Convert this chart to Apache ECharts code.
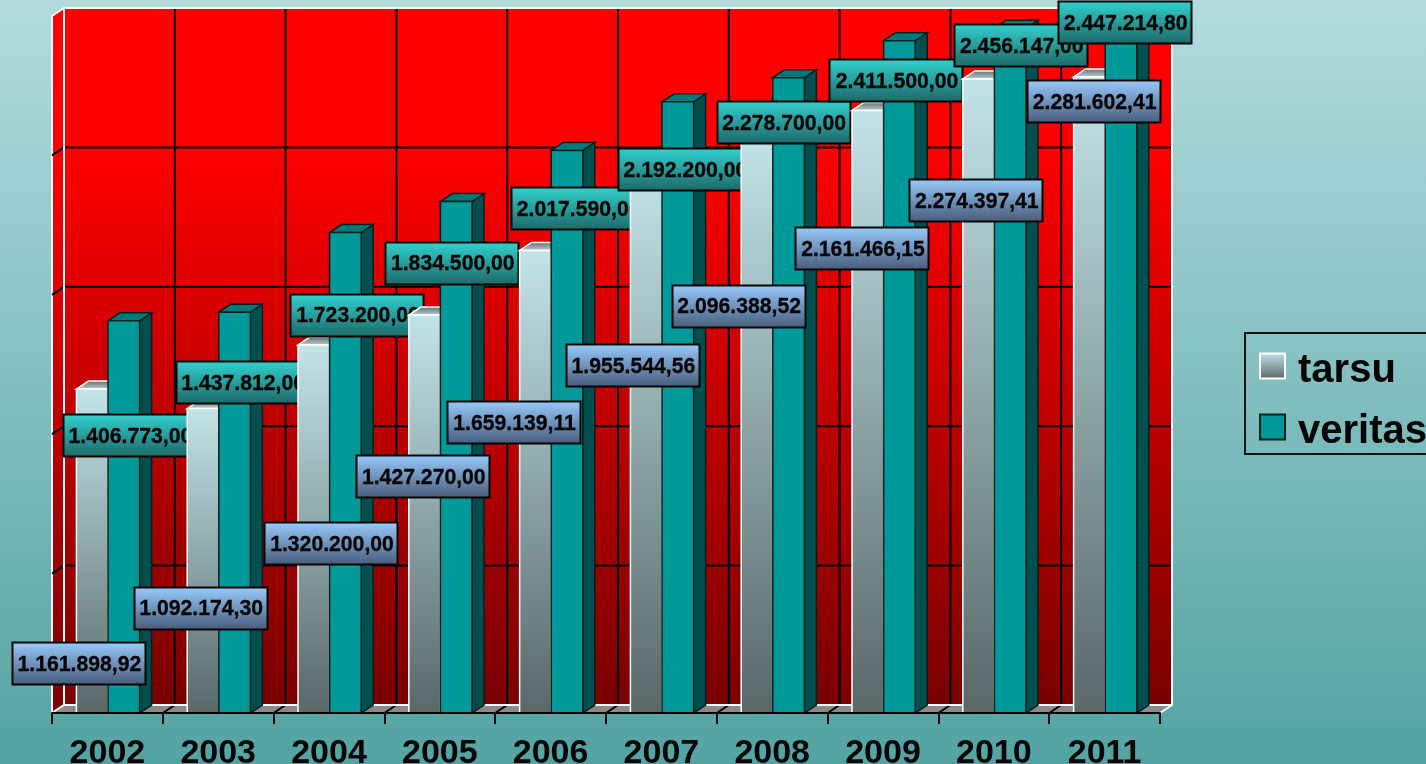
<!DOCTYPE html>
<html><head><meta charset="utf-8">
<style>html,body{margin:0;padding:0;overflow:hidden}#c{width:1426px;height:764px}</style>
<script src="https://cdn.jsdelivr.net/npm/echarts@6/dist/echarts.min.js"></script>
</head><body><div id="c"></div>
<script>
const categories = ['2002','2003','2004','2005','2006','2007','2008','2009','2010','2011'];
const tarsu = [1161898.92,1092174.30,1320200.00,1427270.00,1659139.11,1955544.56,2096388.52,2161466.15,2274397.41,2281602.41];
const veritas = [1406773.00,1437812.00,1723200.00,1834500.00,2017590.00,2192200.00,2278700.00,2411500.00,2456147.00,2447214.80];
const yTicks = [0,500000,1000000,1500000,2000000,2500000];
// hand-placed label offsets (from category centre / bar top)
const tarsuLabelDx = [-29,-18,2,-17,-37,-29,-34,-21,-18,-11];
const tarsuLabelDy = [275,200,199,162,173,198,178,139,122,25];
const veritasLabelDx = [22,24,28,12,27,23,11,13,27,20];
const veritasLabelDy = [115,71,83,62,59,68,45,40,18,-8];

const DX = 12, DY = 8, BAR = 0.285, LW = 133, LH = 42, SHIFT = 0.6;
const G = echarts.graphic;
const vgrad = (a, b) => new G.LinearGradient(0,0,0,1,[{offset:0,color:a},{offset:1,color:b}]);
const fmt = v => {
  const [i, d] = v.toFixed(2).split('.');
  return i.replace(/\B(?=(\d{3})+$)/g,'.') + ',' + d;
};
const poly = (points, style, z2) => ({type:'polygon', shape:{points}, style, z2, silent:true});
const line = (x1,y1,x2,y2,z2,stroke='#000',lineWidth=2) => ({type:'line', shape:{x1,y1,x2,y2}, style:{stroke,lineWidth}, z2, silent:true});

function renderWalls(params, api) {
  const band = api.size([1,0])[0];
  const [x0] = api.coord([0,0]);
  const left = x0 - band/2, right = left + band*categories.length;
  const yMax = api.coord([0,yTicks[yTicks.length-1]])[1], y0 = api.coord([0,0])[1];
  const wallFill = new G.LinearGradient(0,0,0,1,[{offset:0,color:'#ff0000'},{offset:0.2,color:'#ff0000'},{offset:1,color:'#790000'}]);
  const white = '#f4fafa';
  const kids = [];
  kids.push(poly([[left,yMax],[left+DX,yMax-DY],[left+DX,y0-DY],[left,y0]],{fill:wallFill,stroke:white,lineWidth:2},1));
  kids.push(poly([[left,y0],[left+DX,y0-DY],[right+DX,y0-DY],[right,y0]],{fill:'#8a8a8a'},1));
  kids.push(line(left,y0,left+DX,y0-DY,1,white,2));
  kids.push(line(right,y0,right+DX,y0-DY,1,white,2));
  kids.push({type:'rect',shape:{x:left+DX,y:yMax-DY,width:right-left,height:y0-yMax},style:{fill:wallFill},z2:2,silent:true});
  yTicks.slice(1,-1).forEach(t=>{
    const y = api.coord([0,t])[1];
    kids.push(line(left,y,left+DX,y-DY,3));
    kids.push(line(left+DX,y-DY,right+DX,y-DY,3));
  });
  categories.forEach((c,i)=>{
    const b = left + band*(i+1);
    if (i<categories.length-1) kids.push(line(b+DX,yMax-DY,b+DX,y0-DY,3));
    if (i<categories.length-1) kids.push(line(b,y0,b+DX,y0-DY,3));
  });
  kids.push({type:'rect',shape:{x:left+DX,y:yMax-DY,width:right-left,height:y0-yMax},style:{fill:'none',stroke:white,lineWidth:2},z2:4,silent:true});
  return {type:'group',children:kids};
}

function bar3d(x, w, yTop, yBase, s, z2) {
  return [
    poly([[x+w,yTop],[x+w+DX,yTop-DY],[x+w+DX,yBase-DY],[x+w,yBase]],{fill:s.side,stroke:s.sideStroke,lineWidth:1.5},z2),
    poly([[x,yTop],[x+DX,yTop-DY],[x+w+DX,yTop-DY],[x+w,yTop]],{fill:s.top,stroke:s.stroke,lineWidth:1.5},z2),
    {type:'rect',shape:{x,y:yTop,width:w,height:yBase-yTop},style:{fill:s.front,stroke:s.stroke,lineWidth:1.5},z2:z2+1,silent:true}
  ];
}
function labelBox(cx, cy, text, fill, z2) {
  return [
    {type:'rect',shape:{x:Math.round(cx-LW/2)+0.5,y:Math.round(cy-LH/2)-0.5,width:LW,height:LH},style:{fill,stroke:'#050505',lineWidth:2},z2,silent:true},
    {type:'text',style:{x:cx+1,y:cy+1,text,fill:'#050505',stroke:'#050505',lineWidth:0.3,font:'bold 21.2px "Liberation Sans", Arial, sans-serif',align:'center',verticalAlign:'middle'},z2:z2+1,silent:true}
  ];
}
const tarsuStyle = {
  front:vgrad('#c2e4e9','#596767'), top:vgrad('#566a6a','#c6d4d4'),
  side:'#4a5a5a', stroke:'#ffffff', sideStroke:'#ffffff'
};
const veritasStyle = {
  front:'#009999', top:'#007a78', side:'#004f4f', stroke:'#04201f', sideStroke:'#04201f'
};
function makeRender(values, offset, style, dxs, dys, labelFill, baseZ) {
  return function(params, api) {
    const i = params.dataIndex;
    const band = api.size([1,0])[0], w = band*BAR;
    const [cx, yTop] = api.coord([i, values[i]]);
    const yBase = api.coord([i,0])[1];
    const x = cx + offset*w + SHIFT;
    const zB = (i+1)*10 + baseZ;
    const labelZ = baseZ===0 ? 1000+i*2 : zB+2;
    return {type:'group',children:[
      ...bar3d(x,w,yTop,yBase,style,zB),
      ...labelBox(cx+dxs[i], yTop+dys[i], fmt(values[i]), labelFill, labelZ)
    ]};
  };
}
const greenFill = vgrad('#33d3d0','#1d6766');
const blueFill = vgrad('#99ccff','#475a78');

const chart = echarts.init(document.getElementById('c'),null,{renderer:'canvas'});
chart.setOption({
  animation:false,
  backgroundColor:new G.LinearGradient(0,0,0,1,[{offset:0,color:'#b3dbdc'},{offset:1,color:'#54a3a3'}]),
  grid:{left:52,top:16,width:1108,height:697,containLabel:false,outerBoundsMode:'none'},
  xAxis:{type:'category',data:categories,z:3,
    axisLine:{show:true,lineStyle:{color:'#000',width:2}},
    axisTick:{show:true,alignWithLabel:false,length:11,lineStyle:{color:'#000',width:2}},
    axisLabel:{interval:0,margin:24,color:'#050505',fontFamily:'Liberation Sans',fontWeight:'bold',fontSize:34},
    splitLine:{show:false}},
  yAxis:{type:'value',min:0,max:2500000,interval:500000,show:false,splitLine:{show:false}},
  legend:{show:true,orient:'vertical',left:1245,top:333,padding:[18,10,2,14],itemGap:21,itemWidth:25,itemHeight:25,
    borderColor:'#111',borderWidth:2,selectedMode:false,
    formatter:'{a|{name}}',
    textStyle:{color:'#050505',fontFamily:'Liberation Sans',fontWeight:'bold',fontSize:40,
      rich:{a:{color:'#050505',fontFamily:'Liberation Sans',fontWeight:'bold',fontSize:40,padding:[10,0,0,8]}}},
    data:[
      {name:'tarsu',icon:'rect',itemStyle:{color:vgrad('#c2e4e9','#596767'),borderColor:'#fff',borderWidth:2}},
      {name:'veritas',icon:'rect',itemStyle:{color:'#009999',borderColor:'#04201f',borderWidth:2}}
    ]},
  series:[
    {type:'custom',name:'walls',z:1,silent:true,data:[0],renderItem:renderWalls,encode:{x:-1,y:-1}},
    {type:'custom',name:'tarsu',z:2,silent:true,itemStyle:{color:'#c2e4e9'},data:tarsu,
      renderItem:makeRender(tarsu,-1,tarsuStyle,tarsuLabelDx,tarsuLabelDy,blueFill,0)},
    {type:'custom',name:'veritas',z:2,silent:true,itemStyle:{color:'#009999'},data:veritas,
      renderItem:makeRender(veritas,0,veritasStyle,veritasLabelDx,veritasLabelDy,greenFill,3)}
  ]
});
</script></body></html>
